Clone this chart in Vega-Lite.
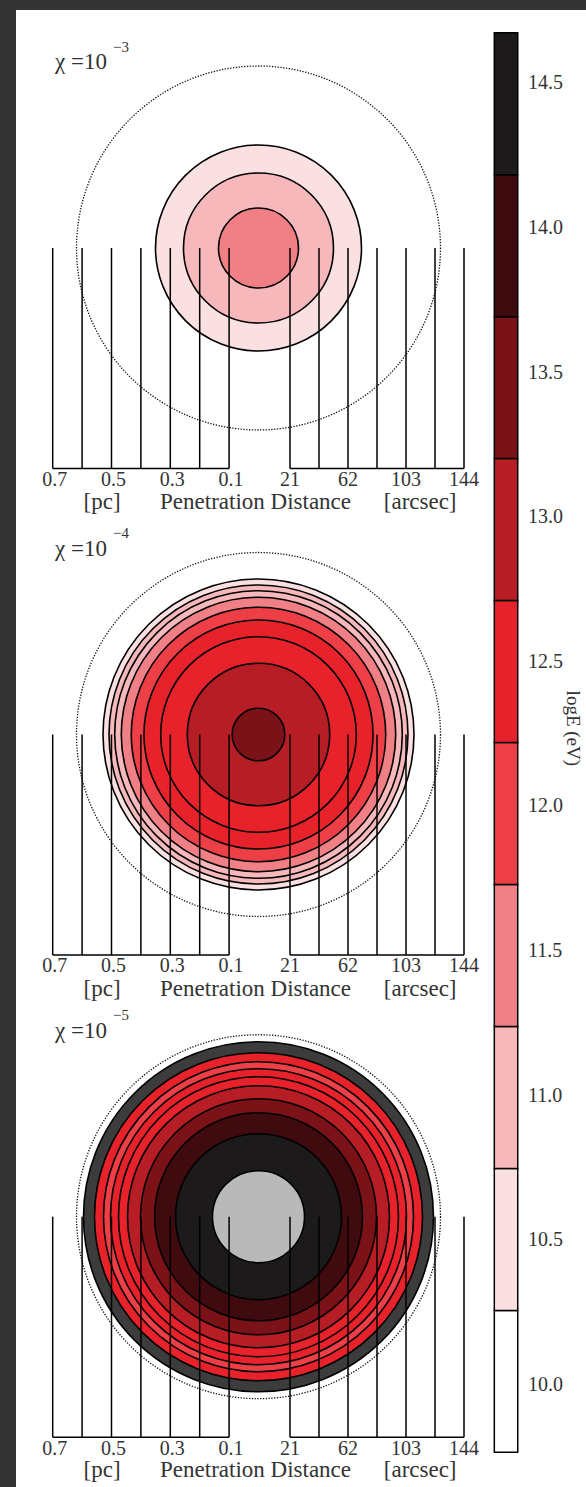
{
  "$schema": "https://vega.github.io/schema/vega-lite/v6.json",
  "background": "#333333",
  "padding": {"left": 16, "top": 10, "right": 0, "bottom": 0},
  "config": {
    "view": {"stroke": null, "fill": "white"},
    "axis": {"disable": true},
    "legend": {"disable": true}
  },
  "datasets": {
    "outline": [{"panel": 1, "r": 0.619}, {"panel": 2, "r": 0.619}, {"panel": 3, "r": 0.619}],
    "rings": [
      {"panel": 1, "r": 0.3503, "E": 10.5},
      {"panel": 1, "r": 0.2551, "E": 11.0},
      {"panel": 1, "r": 0.1361, "E": 11.5},
      {"panel": 2, "r": 0.5289, "E": 10.5},
      {"panel": 2, "r": 0.5085, "E": 11.0},
      {"panel": 2, "r": 0.4891, "E": 11.0},
      {"panel": 2, "r": 0.4667, "E": 11.5},
      {"panel": 2, "r": 0.4327, "E": 12.0},
      {"panel": 2, "r": 0.3895, "E": 12.5},
      {"panel": 2, "r": 0.3327, "E": 12.5},
      {"panel": 2, "r": 0.2422, "E": 13.0},
      {"panel": 2, "r": 0.0895, "E": 13.5},
      {"panel": 3, "r": 0.5952, "E": 9.5},
      {"panel": 3, "r": 0.5578, "E": 12.5},
      {"panel": 3, "r": 0.5272, "E": 12.0},
      {"panel": 3, "r": 0.5034, "E": 12.5},
      {"panel": 3, "r": 0.4762, "E": 12.5},
      {"panel": 3, "r": 0.4456, "E": 13.0},
      {"panel": 3, "r": 0.4014, "E": 13.5},
      {"panel": 3, "r": 0.3537, "E": 14.0},
      {"panel": 3, "r": 0.2823, "E": 14.5},
      {"panel": 3, "r": 0.1565, "E": 15.0}
    ],
    "pcTicks": [
      {"pc": 0.7, "label": true}, {"pc": 0.6, "label": false}, {"pc": 0.5, "label": true},
      {"pc": 0.4, "label": false}, {"pc": 0.3, "label": true}, {"pc": 0.2, "label": false},
      {"pc": 0.1, "label": true}
    ],
    "arcTicks": [
      {"arcsec": 21, "label": true}, {"arcsec": 41.5, "label": false}, {"arcsec": 62, "label": true},
      {"arcsec": 82.5, "label": false}, {"arcsec": 103, "label": true}, {"arcsec": 123.5, "label": false},
      {"arcsec": 144, "label": true}
    ],
    "bins": [
      {"E": 10.0, "lo": 9.75, "hi": 10.25}, {"E": 10.5, "lo": 10.25, "hi": 10.75},
      {"E": 11.0, "lo": 10.75, "hi": 11.25}, {"E": 11.5, "lo": 11.25, "hi": 11.75},
      {"E": 12.0, "lo": 11.75, "hi": 12.25}, {"E": 12.5, "lo": 12.25, "hi": 12.75},
      {"E": 13.0, "lo": 12.75, "hi": 13.25}, {"E": 13.5, "lo": 13.25, "hi": 13.75},
      {"E": 14.0, "lo": 13.75, "hi": 14.25}, {"E": 14.5, "lo": 14.25, "hi": 14.75}
    ]
  },
  "spacing": 0,
  "hconcat": [
    {
      "spacing": 0,
      "bounds": "flush",
      "vconcat": [
        {
          "width": 464, "height": 508,
          "resolve": {"scale": {"x": "independent"}},
          "layer": [
            {"data": {"name": "outline"}, "transform": [{"filter": "datum.panel == 1"}],
             "mark": {"type": "point", "shape": "circle", "filled": false, "stroke": "#111111", "strokeWidth": 1.3, "strokeDash": [1.3, 1.5], "opacity": 1},
             "encoding": {
               "x": {"datum": 0, "type": "quantitative", "scale": {"domain": [-0.7534, 0.8248], "reverse": true, "nice": false, "zero": false}},
               "y": {"datum": 0, "type": "quantitative", "scale": {"domain": [-0.9184, 0.8095], "nice": false, "zero": false}},
               "size": {"field": "r", "type": "quantitative", "scale": {"type": "pow", "exponent": 2, "domain": [0, 1], "range": [0, 345744]}}}},
            {"data": {"name": "rings"}, "transform": [{"filter": "datum.panel == 1"}],
             "mark": {"type": "point", "shape": "circle", "filled": true, "stroke": "#000000", "strokeWidth": 1.6, "opacity": 1},
             "encoding": {
               "x": {"datum": 0, "type": "quantitative", "scale": {"domain": [-0.7534, 0.8248], "reverse": true, "nice": false, "zero": false}},
               "y": {"datum": 0, "type": "quantitative", "scale": {"domain": [-0.9184, 0.8095], "nice": false, "zero": false}},
               "size": {"field": "r", "type": "quantitative", "scale": {"type": "pow", "exponent": 2, "domain": [0, 1], "range": [0, 345744]}},
               "fill": {"field": "E", "type": "quantitative", "scale": {"type": "threshold", "domain": [9.75, 10.25, 10.75, 11.25, 11.75, 12.25, 12.75, 13.25, 13.75, 14.25, 14.75], "range": ["#3c3c3c", "#ffffff", "#fbe0e1", "#f6b8bb", "#f07f86", "#ee3f47", "#e8222b", "#b61d25", "#7b1218", "#3f0b0e", "#1c1a1b", "#b9b9b9"]}},
               "order": {"field": "r", "sort": "descending"}}},
            {"data": {"name": "pcTicks"},
             "mark": {"type": "rule", "stroke": "black", "strokeWidth": 1.5},
             "encoding": {
               "x": {"field": "pc", "type": "quantitative", "scale": {"domain": [-0.7534, 0.8248], "reverse": true, "nice": false, "zero": false}},
               "y": {"datum": 0, "type": "quantitative", "scale": {"domain": [-0.9184, 0.8095], "nice": false, "zero": false}},
               "y2": {"datum": -0.75}}},
            {"data": {"name": "pcTicks"},
             "mark": {"type": "rule", "stroke": "black", "strokeWidth": 1.5},
             "encoding": {
               "x": {"aggregate": "max", "field": "pc", "type": "quantitative", "scale": {"domain": [-0.7534, 0.8248], "reverse": true, "nice": false, "zero": false}},
               "x2": {"aggregate": "min", "field": "pc"},
               "y": {"datum": -0.75, "type": "quantitative", "scale": {"domain": [-0.9184, 0.8095], "nice": false, "zero": false}}}},
            {"data": {"name": "pcTicks"}, "transform": [{"filter": "datum.label"}],
             "mark": {"type": "text", "font": "Liberation Serif", "fontSize": 20, "fill": "#333333", "baseline": "middle", "dx": 2},
             "encoding": {
               "x": {"field": "pc", "type": "quantitative", "scale": {"domain": [-0.7534, 0.8248], "reverse": true, "nice": false, "zero": false}},
               "y": {"datum": -0.789, "type": "quantitative", "scale": {"domain": [-0.9184, 0.8095], "nice": false, "zero": false}},
               "text": {"field": "pc", "type": "quantitative", "format": ".1f"}}},
            {"data": {"name": "arcTicks"},
             "mark": {"type": "rule", "stroke": "black", "strokeWidth": 1.5},
             "encoding": {
               "x": {"field": "arcsec", "type": "quantitative", "scale": {"domain": [-172.69, 155.31], "nice": false, "zero": false}},
               "y": {"datum": 0, "type": "quantitative", "scale": {"domain": [-0.9184, 0.8095], "nice": false, "zero": false}},
               "y2": {"datum": -0.75}}},
            {"data": {"name": "arcTicks"},
             "mark": {"type": "rule", "stroke": "black", "strokeWidth": 1.5},
             "encoding": {
               "x": {"aggregate": "min", "field": "arcsec", "type": "quantitative", "scale": {"domain": [-172.69, 155.31], "nice": false, "zero": false}},
               "x2": {"aggregate": "max", "field": "arcsec"},
               "y": {"datum": -0.75, "type": "quantitative", "scale": {"domain": [-0.9184, 0.8095], "nice": false, "zero": false}}}},
            {"data": {"name": "arcTicks"}, "transform": [{"filter": "datum.label"}],
             "mark": {"type": "text", "font": "Liberation Serif", "fontSize": 20, "fill": "#333333", "baseline": "middle"},
             "encoding": {
               "x": {"field": "arcsec", "type": "quantitative", "scale": {"domain": [-172.69, 155.31], "nice": false, "zero": false}},
               "y": {"datum": -0.789, "type": "quantitative", "scale": {"domain": [-0.9184, 0.8095], "nice": false, "zero": false}},
               "text": {"field": "arcsec", "type": "quantitative", "format": "d"}}},
            {"data": {"values": [{}]},
             "mark": {"type": "text", "font": "Liberation Serif", "fontSize": 23, "fill": "#333333", "baseline": "middle"},
             "encoding": {
               "x": {"datum": 0.532, "type": "quantitative", "scale": {"domain": [-0.7534, 0.8248], "reverse": true, "nice": false, "zero": false}},
               "y": {"datum": -0.865, "type": "quantitative", "scale": {"domain": [-0.9184, 0.8095], "nice": false, "zero": false}},
               "text": {"value": "[pc]"}}},
            {"data": {"values": [{}]},
             "mark": {"type": "text", "font": "Liberation Serif", "fontSize": 23, "fill": "#333333", "baseline": "middle"},
             "encoding": {
               "x": {"datum": 0.01, "type": "quantitative", "scale": {"domain": [-0.7534, 0.8248], "reverse": true, "nice": false, "zero": false}},
               "y": {"datum": -0.865, "type": "quantitative", "scale": {"domain": [-0.9184, 0.8095], "nice": false, "zero": false}},
               "text": {"value": "Penetration Distance"}}},
            {"data": {"values": [{}]},
             "mark": {"type": "text", "font": "Liberation Serif", "fontSize": 23, "fill": "#333333", "baseline": "middle"},
             "encoding": {
               "x": {"datum": 113, "type": "quantitative", "scale": {"domain": [-172.69, 155.31], "nice": false, "zero": false}},
               "y": {"datum": -0.865, "type": "quantitative", "scale": {"domain": [-0.9184, 0.8095], "nice": false, "zero": false}},
               "text": {"value": "[arcsec]"}}},
            {"data": {"values": [{}]},
             "mark": {"type": "text", "font": "Liberation Serif", "fontSize": 23, "fill": "#333333", "baseline": "middle", "align": "left"},
             "encoding": {
               "x": {"datum": 0.692, "type": "quantitative", "scale": {"domain": [-0.7534, 0.8248], "reverse": true, "nice": false, "zero": false}},
               "y": {"datum": 0.631, "type": "quantitative", "scale": {"domain": [-0.9184, 0.8095], "nice": false, "zero": false}},
               "text": {"value": "χ =10"}}},
            {"data": {"values": [{}]},
             "mark": {"type": "text", "font": "Liberation Serif", "fontSize": 15, "fill": "#333333", "baseline": "middle", "align": "left"},
             "encoding": {
               "x": {"datum": 0.495, "type": "quantitative", "scale": {"domain": [-0.7534, 0.8248], "reverse": true, "nice": false, "zero": false}},
               "y": {"datum": 0.685, "type": "quantitative", "scale": {"domain": [-0.9184, 0.8095], "nice": false, "zero": false}},
               "text": {"value": "−3"}}}
          ]
        },
        {
          "width": 464, "height": 487,
          "resolve": {"scale": {"x": "independent"}},
          "layer": [
            {"data": {"name": "outline"}, "transform": [{"filter": "datum.panel == 2"}],
             "mark": {"type": "point", "shape": "circle", "filled": false, "stroke": "#111111", "strokeWidth": 1.3, "strokeDash": [1.3, 1.5], "opacity": 1},
             "encoding": {
               "x": {"datum": 0, "type": "quantitative", "scale": {"domain": [-0.7534, 0.8248], "reverse": true, "nice": false, "zero": false}},
               "y": {"datum": 0, "type": "quantitative", "scale": {"domain": [-0.9201, 0.7364], "nice": false, "zero": false}},
               "size": {"field": "r", "type": "quantitative", "scale": {"type": "pow", "exponent": 2, "domain": [0, 1], "range": [0, 345744]}}}},
            {"data": {"name": "rings"}, "transform": [{"filter": "datum.panel == 2"}],
             "mark": {"type": "point", "shape": "circle", "filled": true, "stroke": "#000000", "strokeWidth": 1.6, "opacity": 1},
             "encoding": {
               "x": {"datum": 0, "type": "quantitative", "scale": {"domain": [-0.7534, 0.8248], "reverse": true, "nice": false, "zero": false}},
               "y": {"datum": 0, "type": "quantitative", "scale": {"domain": [-0.9201, 0.7364], "nice": false, "zero": false}},
               "size": {"field": "r", "type": "quantitative", "scale": {"type": "pow", "exponent": 2, "domain": [0, 1], "range": [0, 345744]}},
               "fill": {"field": "E", "type": "quantitative", "scale": {"type": "threshold", "domain": [9.75, 10.25, 10.75, 11.25, 11.75, 12.25, 12.75, 13.25, 13.75, 14.25, 14.75], "range": ["#3c3c3c", "#ffffff", "#fbe0e1", "#f6b8bb", "#f07f86", "#ee3f47", "#e8222b", "#b61d25", "#7b1218", "#3f0b0e", "#1c1a1b", "#b9b9b9"]}},
               "order": {"field": "r", "sort": "descending"}}},
            {"data": {"name": "pcTicks"},
             "mark": {"type": "rule", "stroke": "black", "strokeWidth": 1.5},
             "encoding": {
               "x": {"field": "pc", "type": "quantitative", "scale": {"domain": [-0.7534, 0.8248], "reverse": true, "nice": false, "zero": false}},
               "y": {"datum": 0, "type": "quantitative", "scale": {"domain": [-0.9201, 0.7364], "nice": false, "zero": false}},
               "y2": {"datum": -0.75}}},
            {"data": {"name": "pcTicks"},
             "mark": {"type": "rule", "stroke": "black", "strokeWidth": 1.5},
             "encoding": {
               "x": {"aggregate": "max", "field": "pc", "type": "quantitative", "scale": {"domain": [-0.7534, 0.8248], "reverse": true, "nice": false, "zero": false}},
               "x2": {"aggregate": "min", "field": "pc"},
               "y": {"datum": -0.75, "type": "quantitative", "scale": {"domain": [-0.9201, 0.7364], "nice": false, "zero": false}}}},
            {"data": {"name": "pcTicks"}, "transform": [{"filter": "datum.label"}],
             "mark": {"type": "text", "font": "Liberation Serif", "fontSize": 20, "fill": "#333333", "baseline": "middle", "dx": 2},
             "encoding": {
               "x": {"field": "pc", "type": "quantitative", "scale": {"domain": [-0.7534, 0.8248], "reverse": true, "nice": false, "zero": false}},
               "y": {"datum": -0.789, "type": "quantitative", "scale": {"domain": [-0.9201, 0.7364], "nice": false, "zero": false}},
               "text": {"field": "pc", "type": "quantitative", "format": ".1f"}}},
            {"data": {"name": "arcTicks"},
             "mark": {"type": "rule", "stroke": "black", "strokeWidth": 1.5},
             "encoding": {
               "x": {"field": "arcsec", "type": "quantitative", "scale": {"domain": [-172.69, 155.31], "nice": false, "zero": false}},
               "y": {"datum": 0, "type": "quantitative", "scale": {"domain": [-0.9201, 0.7364], "nice": false, "zero": false}},
               "y2": {"datum": -0.75}}},
            {"data": {"name": "arcTicks"},
             "mark": {"type": "rule", "stroke": "black", "strokeWidth": 1.5},
             "encoding": {
               "x": {"aggregate": "min", "field": "arcsec", "type": "quantitative", "scale": {"domain": [-172.69, 155.31], "nice": false, "zero": false}},
               "x2": {"aggregate": "max", "field": "arcsec"},
               "y": {"datum": -0.75, "type": "quantitative", "scale": {"domain": [-0.9201, 0.7364], "nice": false, "zero": false}}}},
            {"data": {"name": "arcTicks"}, "transform": [{"filter": "datum.label"}],
             "mark": {"type": "text", "font": "Liberation Serif", "fontSize": 20, "fill": "#333333", "baseline": "middle"},
             "encoding": {
               "x": {"field": "arcsec", "type": "quantitative", "scale": {"domain": [-172.69, 155.31], "nice": false, "zero": false}},
               "y": {"datum": -0.789, "type": "quantitative", "scale": {"domain": [-0.9201, 0.7364], "nice": false, "zero": false}},
               "text": {"field": "arcsec", "type": "quantitative", "format": "d"}}},
            {"data": {"values": [{}]},
             "mark": {"type": "text", "font": "Liberation Serif", "fontSize": 23, "fill": "#333333", "baseline": "middle"},
             "encoding": {
               "x": {"datum": 0.532, "type": "quantitative", "scale": {"domain": [-0.7534, 0.8248], "reverse": true, "nice": false, "zero": false}},
               "y": {"datum": -0.865, "type": "quantitative", "scale": {"domain": [-0.9201, 0.7364], "nice": false, "zero": false}},
               "text": {"value": "[pc]"}}},
            {"data": {"values": [{}]},
             "mark": {"type": "text", "font": "Liberation Serif", "fontSize": 23, "fill": "#333333", "baseline": "middle"},
             "encoding": {
               "x": {"datum": 0.01, "type": "quantitative", "scale": {"domain": [-0.7534, 0.8248], "reverse": true, "nice": false, "zero": false}},
               "y": {"datum": -0.865, "type": "quantitative", "scale": {"domain": [-0.9201, 0.7364], "nice": false, "zero": false}},
               "text": {"value": "Penetration Distance"}}},
            {"data": {"values": [{}]},
             "mark": {"type": "text", "font": "Liberation Serif", "fontSize": 23, "fill": "#333333", "baseline": "middle"},
             "encoding": {
               "x": {"datum": 113, "type": "quantitative", "scale": {"domain": [-172.69, 155.31], "nice": false, "zero": false}},
               "y": {"datum": -0.865, "type": "quantitative", "scale": {"domain": [-0.9201, 0.7364], "nice": false, "zero": false}},
               "text": {"value": "[arcsec]"}}},
            {"data": {"values": [{}]},
             "mark": {"type": "text", "font": "Liberation Serif", "fontSize": 23, "fill": "#333333", "baseline": "middle", "align": "left"},
             "encoding": {
               "x": {"datum": 0.692, "type": "quantitative", "scale": {"domain": [-0.7534, 0.8248], "reverse": true, "nice": false, "zero": false}},
               "y": {"datum": 0.631, "type": "quantitative", "scale": {"domain": [-0.9201, 0.7364], "nice": false, "zero": false}},
               "text": {"value": "χ =10"}}},
            {"data": {"values": [{}]},
             "mark": {"type": "text", "font": "Liberation Serif", "fontSize": 15, "fill": "#333333", "baseline": "middle", "align": "left"},
             "encoding": {
               "x": {"datum": 0.495, "type": "quantitative", "scale": {"domain": [-0.7534, 0.8248], "reverse": true, "nice": false, "zero": false}},
               "y": {"datum": 0.685, "type": "quantitative", "scale": {"domain": [-0.9201, 0.7364], "nice": false, "zero": false}},
               "text": {"value": "−4"}}}
          ]
        },
        {
          "width": 464, "height": 482,
          "resolve": {"scale": {"x": "independent"}},
          "layer": [
            {"data": {"name": "outline"}, "transform": [{"filter": "datum.panel == 3"}],
             "mark": {"type": "point", "shape": "circle", "filled": false, "stroke": "#111111", "strokeWidth": 1.3, "strokeDash": [1.3, 1.5], "opacity": 1},
             "encoding": {
               "x": {"datum": 0, "type": "quantitative", "scale": {"domain": [-0.7534, 0.8248], "reverse": true, "nice": false, "zero": false}},
               "y": {"datum": 0, "type": "quantitative", "scale": {"domain": [-0.9194, 0.7201], "nice": false, "zero": false}},
               "size": {"field": "r", "type": "quantitative", "scale": {"type": "pow", "exponent": 2, "domain": [0, 1], "range": [0, 345744]}}}},
            {"data": {"name": "rings"}, "transform": [{"filter": "datum.panel == 3"}],
             "mark": {"type": "point", "shape": "circle", "filled": true, "stroke": "#000000", "strokeWidth": 1.6, "opacity": 1},
             "encoding": {
               "x": {"datum": 0, "type": "quantitative", "scale": {"domain": [-0.7534, 0.8248], "reverse": true, "nice": false, "zero": false}},
               "y": {"datum": 0, "type": "quantitative", "scale": {"domain": [-0.9194, 0.7201], "nice": false, "zero": false}},
               "size": {"field": "r", "type": "quantitative", "scale": {"type": "pow", "exponent": 2, "domain": [0, 1], "range": [0, 345744]}},
               "fill": {"field": "E", "type": "quantitative", "scale": {"type": "threshold", "domain": [9.75, 10.25, 10.75, 11.25, 11.75, 12.25, 12.75, 13.25, 13.75, 14.25, 14.75], "range": ["#3c3c3c", "#ffffff", "#fbe0e1", "#f6b8bb", "#f07f86", "#ee3f47", "#e8222b", "#b61d25", "#7b1218", "#3f0b0e", "#1c1a1b", "#b9b9b9"]}},
               "order": {"field": "r", "sort": "descending"}}},
            {"data": {"name": "pcTicks"},
             "mark": {"type": "rule", "stroke": "black", "strokeWidth": 1.5},
             "encoding": {
               "x": {"field": "pc", "type": "quantitative", "scale": {"domain": [-0.7534, 0.8248], "reverse": true, "nice": false, "zero": false}},
               "y": {"datum": 0, "type": "quantitative", "scale": {"domain": [-0.9194, 0.7201], "nice": false, "zero": false}},
               "y2": {"datum": -0.75}}},
            {"data": {"name": "pcTicks"},
             "mark": {"type": "rule", "stroke": "black", "strokeWidth": 1.5},
             "encoding": {
               "x": {"aggregate": "max", "field": "pc", "type": "quantitative", "scale": {"domain": [-0.7534, 0.8248], "reverse": true, "nice": false, "zero": false}},
               "x2": {"aggregate": "min", "field": "pc"},
               "y": {"datum": -0.75, "type": "quantitative", "scale": {"domain": [-0.9194, 0.7201], "nice": false, "zero": false}}}},
            {"data": {"name": "pcTicks"}, "transform": [{"filter": "datum.label"}],
             "mark": {"type": "text", "font": "Liberation Serif", "fontSize": 20, "fill": "#333333", "baseline": "middle", "dx": 2},
             "encoding": {
               "x": {"field": "pc", "type": "quantitative", "scale": {"domain": [-0.7534, 0.8248], "reverse": true, "nice": false, "zero": false}},
               "y": {"datum": -0.789, "type": "quantitative", "scale": {"domain": [-0.9194, 0.7201], "nice": false, "zero": false}},
               "text": {"field": "pc", "type": "quantitative", "format": ".1f"}}},
            {"data": {"name": "arcTicks"},
             "mark": {"type": "rule", "stroke": "black", "strokeWidth": 1.5},
             "encoding": {
               "x": {"field": "arcsec", "type": "quantitative", "scale": {"domain": [-172.69, 155.31], "nice": false, "zero": false}},
               "y": {"datum": 0, "type": "quantitative", "scale": {"domain": [-0.9194, 0.7201], "nice": false, "zero": false}},
               "y2": {"datum": -0.75}}},
            {"data": {"name": "arcTicks"},
             "mark": {"type": "rule", "stroke": "black", "strokeWidth": 1.5},
             "encoding": {
               "x": {"aggregate": "min", "field": "arcsec", "type": "quantitative", "scale": {"domain": [-172.69, 155.31], "nice": false, "zero": false}},
               "x2": {"aggregate": "max", "field": "arcsec"},
               "y": {"datum": -0.75, "type": "quantitative", "scale": {"domain": [-0.9194, 0.7201], "nice": false, "zero": false}}}},
            {"data": {"name": "arcTicks"}, "transform": [{"filter": "datum.label"}],
             "mark": {"type": "text", "font": "Liberation Serif", "fontSize": 20, "fill": "#333333", "baseline": "middle"},
             "encoding": {
               "x": {"field": "arcsec", "type": "quantitative", "scale": {"domain": [-172.69, 155.31], "nice": false, "zero": false}},
               "y": {"datum": -0.789, "type": "quantitative", "scale": {"domain": [-0.9194, 0.7201], "nice": false, "zero": false}},
               "text": {"field": "arcsec", "type": "quantitative", "format": "d"}}},
            {"data": {"values": [{}]},
             "mark": {"type": "text", "font": "Liberation Serif", "fontSize": 23, "fill": "#333333", "baseline": "middle"},
             "encoding": {
               "x": {"datum": 0.532, "type": "quantitative", "scale": {"domain": [-0.7534, 0.8248], "reverse": true, "nice": false, "zero": false}},
               "y": {"datum": -0.86, "type": "quantitative", "scale": {"domain": [-0.9194, 0.7201], "nice": false, "zero": false}},
               "text": {"value": "[pc]"}}},
            {"data": {"values": [{}]},
             "mark": {"type": "text", "font": "Liberation Serif", "fontSize": 23, "fill": "#333333", "baseline": "middle"},
             "encoding": {
               "x": {"datum": 0.01, "type": "quantitative", "scale": {"domain": [-0.7534, 0.8248], "reverse": true, "nice": false, "zero": false}},
               "y": {"datum": -0.86, "type": "quantitative", "scale": {"domain": [-0.9194, 0.7201], "nice": false, "zero": false}},
               "text": {"value": "Penetration Distance"}}},
            {"data": {"values": [{}]},
             "mark": {"type": "text", "font": "Liberation Serif", "fontSize": 23, "fill": "#333333", "baseline": "middle"},
             "encoding": {
               "x": {"datum": 113, "type": "quantitative", "scale": {"domain": [-172.69, 155.31], "nice": false, "zero": false}},
               "y": {"datum": -0.86, "type": "quantitative", "scale": {"domain": [-0.9194, 0.7201], "nice": false, "zero": false}},
               "text": {"value": "[arcsec]"}}},
            {"data": {"values": [{}]},
             "mark": {"type": "text", "font": "Liberation Serif", "fontSize": 23, "fill": "#333333", "baseline": "middle", "align": "left"},
             "encoding": {
               "x": {"datum": 0.692, "type": "quantitative", "scale": {"domain": [-0.7534, 0.8248], "reverse": true, "nice": false, "zero": false}},
               "y": {"datum": 0.631, "type": "quantitative", "scale": {"domain": [-0.9194, 0.7201], "nice": false, "zero": false}},
               "text": {"value": "χ =10"}}},
            {"data": {"values": [{}]},
             "mark": {"type": "text", "font": "Liberation Serif", "fontSize": 15, "fill": "#333333", "baseline": "middle", "align": "left"},
             "encoding": {
               "x": {"datum": 0.495, "type": "quantitative", "scale": {"domain": [-0.7534, 0.8248], "reverse": true, "nice": false, "zero": false}},
               "y": {"datum": 0.685, "type": "quantitative", "scale": {"domain": [-0.9194, 0.7201], "nice": false, "zero": false}},
               "text": {"value": "−5"}}}
          ]
        }
      ]
    },
    {
      "width": 106, "height": 1477,
      "resolve": {"scale": {"y": "independent"}},
      "layer": [
        {"data": {"name": "bins"},
         "mark": {"type": "rect", "stroke": "black", "strokeWidth": 1.5},
         "encoding": {
           "x": {"datum": 0.135, "type": "quantitative", "scale": {"domain": [0, 1], "nice": false, "zero": false}},
           "x2": {"datum": 0.356},
           "y": {"field": "lo", "type": "quantitative", "scale": {"domain": [9.628, 14.83], "nice": false, "zero": false}},
           "y2": {"field": "hi"},
           "fill": {"field": "E", "type": "quantitative", "scale": {"type": "threshold", "domain": [9.75, 10.25, 10.75, 11.25, 11.75, 12.25, 12.75, 13.25, 13.75, 14.25, 14.75], "range": ["#3c3c3c", "#ffffff", "#fbe0e1", "#f6b8bb", "#f07f86", "#ee3f47", "#e8222b", "#b61d25", "#7b1218", "#3f0b0e", "#1c1a1b", "#b9b9b9"]}}}},
        {"data": {"name": "bins"},
         "mark": {"type": "text", "align": "left", "baseline": "middle", "font": "Liberation Serif", "fontSize": 20, "fill": "#333333"},
         "encoding": {
           "x": {"datum": 0.453, "type": "quantitative", "scale": {"domain": [0, 1], "nice": false, "zero": false}},
           "y": {"field": "E", "type": "quantitative", "scale": {"domain": [9.6474, 14.7534], "nice": false, "zero": false}},
           "text": {"field": "E", "type": "quantitative", "format": ".1f"}}},
        {"data": {"values": [{}]},
         "mark": {"type": "text", "align": "center", "baseline": "alphabetic", "angle": 90, "font": "Liberation Serif", "fontSize": 19, "fill": "#333333"},
         "encoding": {
           "x": {"datum": 0.82, "type": "quantitative", "scale": {"domain": [0, 1], "nice": false, "zero": false}},
           "y": {"datum": 12.3, "type": "quantitative", "scale": {"domain": [9.628, 14.83], "nice": false, "zero": false}},
           "text": {"value": "logE (eV)"}}}
      ]
    }
  ]
}
